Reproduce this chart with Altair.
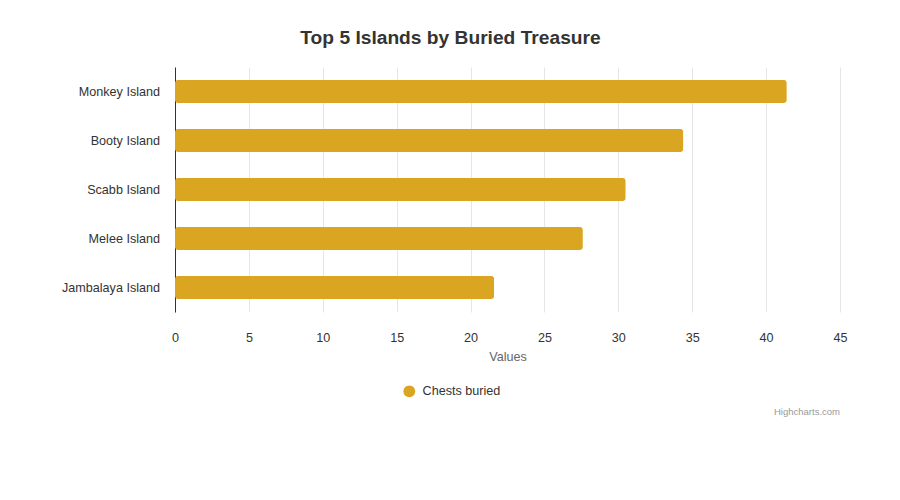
import altair as alt
import pandas as pd

islands = ["Monkey Island", "Booty Island", "Scabb Island", "Melee Island", "Jambalaya Island"]
chests = [41.4, 34.4, 30.5, 27.6, 21.6]
series_name = "Chests buried"
title_text = "Top 5 Islands by Buried Treasure"
credit_text = "Highcharts.com"

df = pd.DataFrame({"island": islands, "value": chests, "series": [series_name] * len(islands)})

FONT = "Liberation Sans"
LS = 12.6

bars = alt.Chart(df).mark_bar(cornerRadius=3).encode(
    y=alt.Y("island:N", sort=islands, title=None,
            scale=alt.Scale(paddingInner=0.53, paddingOuter=0.265),
            axis=alt.Axis(domain=True, domainColor="#333333", domainWidth=1, ticks=False,
                          labelPadding=15.5, labelFontSize=LS, labelColor="#333333",
                          labelFont=FONT, grid=False)),
    x=alt.X("value:Q", title="Values",
            scale=alt.Scale(domain=[0, 45], nice=False),
            axis=alt.Axis(values=list(range(0, 50, 5)), domain=False, ticks=False,
                          labelFlush=False,
                          labelPadding=19, labelFontSize=LS, labelColor="#333333",
                          labelFont=FONT, grid=True, gridColor="#e6e6e6",
                          titleFont=FONT, titleFontSize=LS, titleColor="#666666",
                          titleFontWeight="normal", titlePadding=7)),
    color=alt.Color("series:N", scale=alt.Scale(range=["#DAA520"]),
                    legend=alt.Legend(title=None, orient="none", legendX=228, legendY=318,
                                      symbolType="circle", symbolSize=140, symbolStrokeWidth=0,
                                      labelFont=FONT, labelFontSize=LS, labelColor="#333333",
                                      labelOffset=7)),
)

credit = alt.Chart(pd.DataFrame({"t": [credit_text]})).mark_text(
    align="right", baseline="middle", font=FONT, fontSize=9.5, color="#999999"
).encode(text="t:N", x=alt.value(665), y=alt.value(345))

chart = alt.layer(bars, credit).properties(
    width=665, height=245,
    padding={"left": 167, "top": 59, "right": 52, "bottom": 170},
    autosize=alt.AutoSizeParams(type="none"),
    title=alt.TitleParams(title_text, font=FONT, fontSize=19.2, fontWeight="bold",
                          color="#333333", anchor="middle", dx=-57, offset=19),
).configure_view(stroke=None)

chart.save("out.html", embed_options={"renderer": "svg", "actions": False})
